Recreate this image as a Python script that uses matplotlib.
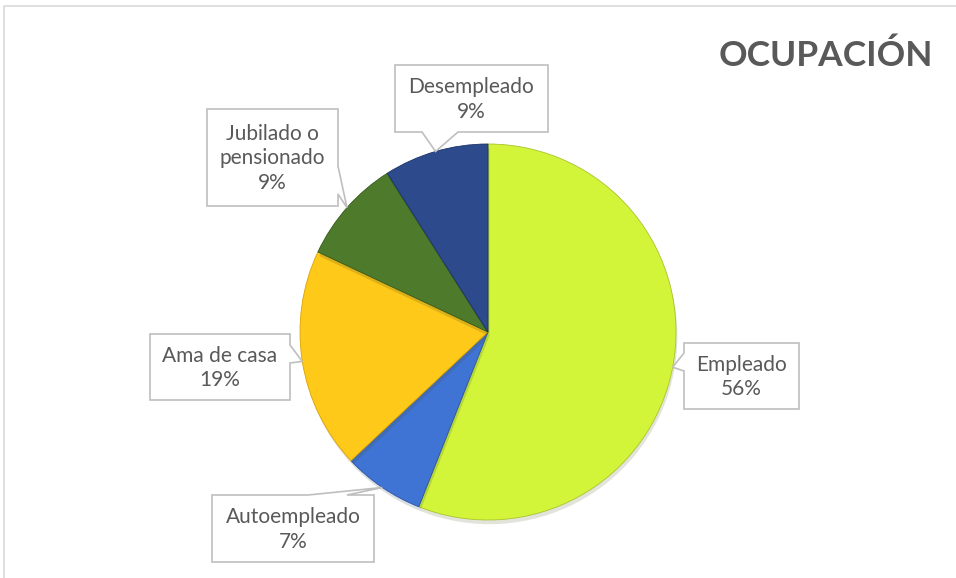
import matplotlib
matplotlib.use('Agg')
import matplotlib.pyplot as plt
import matplotlib.patheffects as pe
from matplotlib.patches import Polygon
import numpy as np

categories = ['Empleado', 'Autoempleado', 'Ama de casa', 'Jubilado o\npensionado', 'Desempleado']
values = [56, 7, 19, 9, 9]
colors = ['#d2f53a', '#3f74d4', '#ffc91a', '#4e7a2c', '#2c4a8c']
edges = ['#a9c52a', '#2a559f', '#d9a300', '#355a1b', '#1c3366']

W, H = 956, 578
plt.rcParams['font.family'] = ['Lato', 'DejaVu Sans']

fig = plt.figure(figsize=(W / 100, H / 100), dpi=100)
ax = fig.add_axes([0, 0, 1, 1])

# chart frame (only top and left visible)
ax.plot([4, 4, W + 5], [-5, H - 6, H - 6], color='#d9d9d9', lw=1.2)

cx, cy, r = 488, H - 332, 188
wedges, _ = ax.pie(values, colors=colors, startangle=90, counterclock=False,
                   center=(cx, cy), radius=r, frame=True,
                   wedgeprops=dict(linewidth=0.6))
for w, ec in zip(wedges, edges):
    w.set_edgecolor(ec)
    w.set_path_effects([pe.SimplePatchShadow(offset=(1, -3), alpha=0.15), pe.Normal()])
ax.set_xlim(0, W)
ax.set_ylim(0, H)
ax.set_aspect('equal')
ax.axis('off')

# label boxes in image pixels: (x0, y0, x1, y1), side of pointer, base span
boxes = [
    ((684, 343, 799, 409), 'left', (353, 371)),
    ((212, 495, 374, 562), 'top', (308, 347)),
    ((150, 334, 290, 400), 'right', (345, 363)),
    ((207, 109, 338, 206), 'right', (166, 194)),
    ((395, 65, 548, 132), 'bottom', (422, 458)),
]


def callout(box, side, base, tip):
    x0, y0, x1, y1 = box
    b0, b1 = base
    tx, ty = tip
    if side == 'bottom':
        pts = [(x0, y0), (x1, y0), (x1, y1), (b1, y1), (tx, ty), (b0, y1), (x0, y1)]
    elif side == 'top':
        pts = [(x0, y0), (b0, y0), (tx, ty), (b1, y0), (x1, y0), (x1, y1), (x0, y1)]
    elif side == 'right':
        pts = [(x0, y0), (x1, y0), (x1, b0), (tx, ty), (x1, b1), (x1, y1), (x0, y1)]
    else:
        pts = [(x0, y0), (x1, y0), (x1, y1), (x0, y1), (x0, b1), (tx, ty), (x0, b0)]
    pts = [(px, H - py) for px, py in pts]
    ax.add_patch(Polygon(pts, closed=True, facecolor='white', edgecolor='#bfbfbf',
                         lw=1.2, zorder=5))


for w, cat, val, (box, side, base) in zip(wedges, categories, values, boxes):
    mid = np.deg2rad((w.theta1 + w.theta2) / 2)
    tip = (cx + r * np.cos(mid), H - (cy + r * np.sin(mid)))
    callout(box, side, base, tip)
    x0, y0, x1, y1 = box
    ax.text((x0 + x1) / 2, H - (y0 + y1) / 2 - 1, f'{cat}\n{val}%', ha='center',
            va='center', fontsize=15, color='#595959', linespacing=1.3, zorder=6)

ax.text(826, H - 56, 'OCUPACIÓN', ha='center', va='center', fontsize=25.5,
        fontweight='bold', color='#595959')

fig.savefig('out.png', dpi=100)
